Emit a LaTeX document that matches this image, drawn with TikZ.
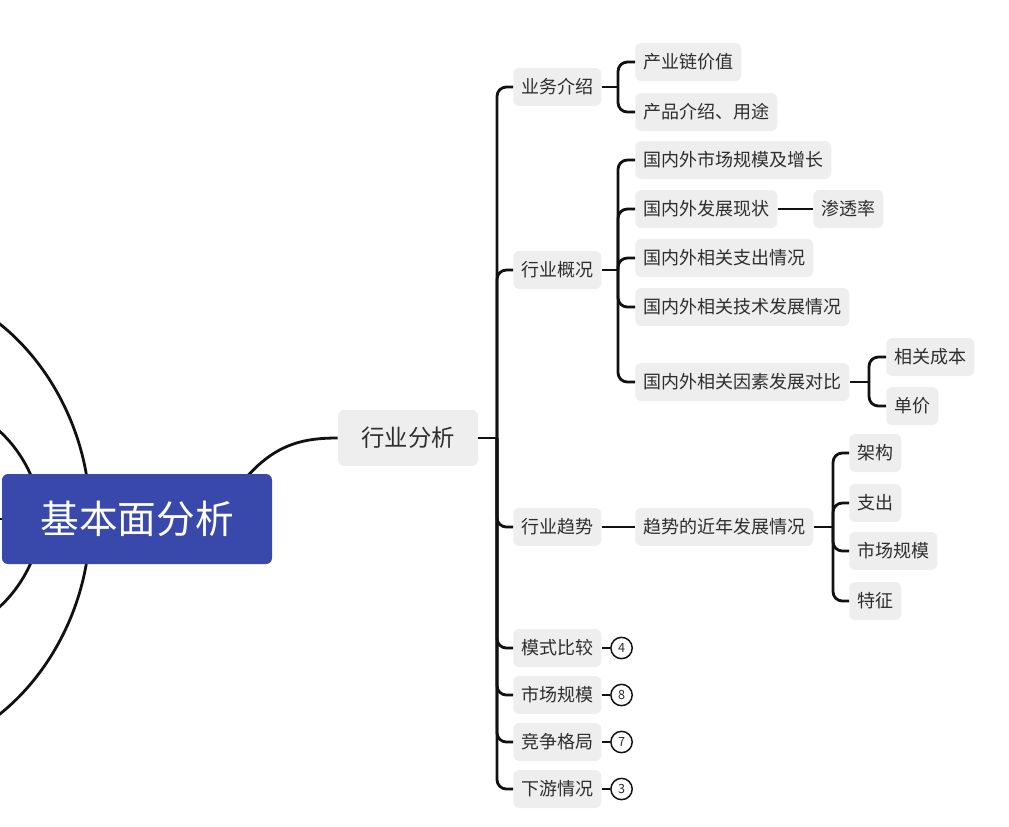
\documentclass[tikz,border=0pt]{standalone}
\usepackage{fontspec}
\setmainfont{Noto Sans CJK SC}
\usepackage{tikz}
\usetikzlibrary{positioning, calc, backgrounds}

\definecolor{rootblue}{HTML}{3949AB}
\definecolor{topicgray}{HTML}{EEEEEE}
\definecolor{inkgray}{HTML}{2E2E2E}
\definecolor{linegray}{HTML}{111111}

\tikzset{
  topic/.style={fill=topicgray, text=inkgray, rounded corners=4.5pt, minimum height=28.5pt,
    inner xsep=6pt, inner ysep=0pt, anchor=west, font=\fontsize{13.5}{14}\selectfont},
  branch/.style={draw=linegray, line width=2.1pt, rounded corners=7pt},
  badge/.style={circle, draw=linegray, fill=white, line width=1.1pt, minimum size=16pt,
    inner sep=0pt, text=inkgray, font=\fontsize{9.5}{9.5}\selectfont}
}

\begin{document}
\begin{tikzpicture}[x=0.75pt,y=-0.75pt]
\useasboundingbox (0,0) rectangle (1009,826);

% root and main topic
\node[fill=rootblue, text=white, rounded corners=4.5pt, minimum width=202.5pt, minimum height=67.5pt,
  font=\fontsize{29}{30}\selectfont] (root) at (137,519) {基本面分析};
\node[fill=topicgray, text=inkgray, rounded corners=4.5pt, minimum width=105pt, minimum height=42pt,
  font=\fontsize{17.5}{18}\selectfont] (hyfx) at (408,438) {行业分析};

% branches leaving the picture on the left
\coordinate (lft1) at (-20,310);
\coordinate (lft2) at (-25,415);
\coordinate (lft3) at (-20,519);
\coordinate (lft4) at (-25,623);
\coordinate (lft5) at (-20,728);
\begin{scope}[on background layer]
    \draw[branch] (lft1) .. controls (45,350) and (88,430) .. (90,519)
        .. controls (88,608) and (45,688) .. (lft5);
    \draw[branch] (lft2) .. controls (10,430) and (38,475) .. (40,519)
        .. controls (38,563) and (10,608) .. (lft4);
    \draw[branch] (root.center) -- (lft3);
    \draw[branch] ($(root.north east)+(-36,16)$) .. controls (270,445) and (300,438) .. (hyfx.west);
\end{scope}

% second level
\foreach \n/\y/\t in {ywjs/87/业务介绍, hygk/270/行业概况, hyqs/527/行业趋势,
    msbj/648/模式比较, scgm/695/市场规模, jzgj/742/竞争格局, xyqk/789/下游情况}
    \node[topic] (\n) at (513,\y) {\t};

\coordinate (trunk) at (497,438);
\draw[branch] (hyfx.east) -- (trunk);
\foreach \n in {ywjs, hygk, hyqs, msbj, scgm, jzgj, xyqk}
    \draw[branch] (trunk) |- (\n.west);

% 业务介绍
\node[topic] (cyl) at (635,62) {产业链价值};
\node[topic] (cpjs) at (635,112) {产品介绍、用途};
\coordinate (j1) at (618,87);
\draw[branch] (ywjs.east) -- (j1);
\foreach \n in {cyl, cpjs}
    \draw[branch] (j1) |- (\n.west);

% 行业概况
\foreach \n/\y/\t in {gnsc/160/国内外市场规模及增长, gnfz/209/国内外发展现状,
    gnzc/258/国内外相关支出情况, gnjs/307/国内外相关技术发展情况, gnys/382/国内外相关因素发展对比}
    \node[topic] (\n) at (635,\y) {\t};
\coordinate (j2) at (618,270);
\draw[branch] (hygk.east) -- (j2);
\foreach \n in {gnsc, gnfz, gnzc, gnjs, gnys}
    \draw[branch] (j2) |- (\n.west);

\node[topic] (stl) at (813,209) {渗透率};
\draw[branch] (gnfz.east) -- (stl.west);

\node[topic] (xgcb) at (886,357) {相关成本};
\node[topic] (dj) at (886,406) {单价};
\coordinate (j3) at (869,382);
\draw[branch] (gnys.east) -- (j3);
\foreach \n in {xgcb, dj}
    \draw[branch] (j3) |- (\n.west);

% 行业趋势
\node[topic] (qsfz) at (635,527) {趋势的近年发展情况};
\draw[branch] (hyqs.east) -- (qsfz.west);
\foreach \n/\y/\t in {jg/453/架构, zc/503/支出, scgm2/551/市场规模, tz/601/特征}
    \node[topic] (\n) at (849,\y) {\t};
\coordinate (j4) at (833,527);
\draw[branch] (qsfz.east) -- (j4);
\foreach \n in {jg, zc, scgm2, tz}
    \draw[branch] (j4) |- (\n.west);

% collapsed counts
\foreach \n/\m/\k in {msbj/b1/4, scgm/b2/8, jzgj/b3/7, xyqk/b4/3} {
    \node[badge] (\m) at ($(\n.east)+(20,0)$) {\k};
    \draw[branch] (\n.east) -- (\m.west);
}
\end{tikzpicture}
\end{document}
